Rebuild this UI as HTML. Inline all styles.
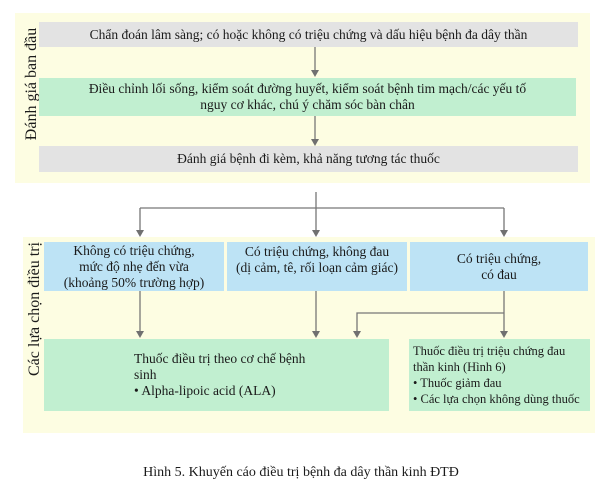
<!DOCTYPE html>
<html><head><meta charset="utf-8"><style>
body{margin:0;width:602px;height:486px;background:#fff;position:relative;overflow:hidden;font-family:"Liberation Serif",serif;color:#1a1a1a;font-size:13.5px}
.a{position:absolute}
.b{position:absolute;display:flex;align-items:center;justify-content:center;text-align:center;line-height:16px}
.g{background:#e3e3e3}.gr{background:#c1efd0}.bl{background:#bde3f5}
.v{position:absolute;transform:rotate(-90deg);white-space:nowrap;font-size:16px;line-height:20px;height:20px;text-align:center}
</style></head><body>
<div class="a" style="left:15px;top:13px;width:575px;height:170px;background:#fdfde2"></div>
<div class="a" style="left:23px;top:237px;width:572px;height:196px;background:#fdfde2"></div>
<div class="v" style="left:-38px;top:74px;width:140px">Đánh giá ban đầu</div>
<div class="v" style="left:-45px;top:299px;width:160px">Các lựa chọn điều trị</div>
<div class="b g" style="left:39px;top:22px;width:539px;height:25px">Chẩn đoán lâm sàng; có hoặc không có triệu chứng và dấu hiệu bệnh đa dây thần</div>
<div class="b gr" style="left:39px;top:78px;width:537px;height:38px">Điều chỉnh lối sống, kiểm soát đường huyết, kiểm soát bệnh tim mạch/các yếu tố<br>nguy cơ khác, chú ý chăm sóc bàn chân</div>
<div class="b g" style="left:39px;top:146px;width:539px;height:26px">Đánh giá bệnh đi kèm, khả năng tương tác thuốc</div>
<div class="b bl" style="left:44px;top:242px;width:180px;height:49px">Không có triệu chứng,<br>mức độ nhẹ đến vừa<br>(khoảng 50% trường hợp)</div>
<div class="b bl" style="left:227px;top:242px;width:180px;height:49px;align-items:flex-start;padding-top:2px;box-sizing:border-box">Có triệu chứng, không đau<br>(dị cảm, tê, rối loạn cảm giác)</div>
<div class="b bl" style="left:410px;top:242px;width:178px;height:49px">Có triệu chứng,<br>có đau</div>
<div class="b gr" style="left:44px;top:339px;width:345px;height:72px;justify-content:flex-start;text-align:left;padding-left:90px;box-sizing:border-box">Thuốc điều trị theo cơ chế bệnh<br>sinh<br>• Alpha-lipoic acid (ALA)</div>
<div class="b gr" style="left:409px;top:339px;width:181px;height:72px;justify-content:flex-start;text-align:left;padding-left:4px;box-sizing:border-box;white-space:nowrap;font-size:12.5px">Thuốc điều trị triệu chứng đau<br>thần kinh (Hình 6)<br>• Thuốc giảm đau<br>• Các lựa chọn không dùng thuốc</div>
<svg class="a" style="left:0;top:0" width="602" height="486">
<g stroke="#777" stroke-width="1.3" fill="none">
<line x1="315" y1="47" x2="315" y2="70"/><line x1="315" y1="116" x2="315" y2="139"/>
<line x1="316" y1="192" x2="316" y2="208"/><line x1="140" y1="208" x2="504" y2="208"/>
<line x1="140" y1="208" x2="140" y2="230"/><line x1="316" y1="208" x2="316" y2="230"/><line x1="504" y1="208" x2="504" y2="230"/>
<line x1="140" y1="291" x2="140" y2="331"/><line x1="316" y1="291" x2="316" y2="331"/><line x1="504" y1="291" x2="504" y2="331"/>
<polyline points="504,313 357,313 357,331"/>
</g>
<g fill="#707070">
<path d="M311,70 L319,70 L315,77z"/><path d="M311,139 L319,139 L315,146z"/>
<path d="M136,230 L144,230 L140,237z"/><path d="M312,230 L320,230 L316,237z"/><path d="M500,230 L508,230 L504,237z"/>
<path d="M136,331 L144,331 L140,338z"/><path d="M312,331 L320,331 L316,338z"/><path d="M500,331 L508,331 L504,338z"/><path d="M353,331 L361,331 L357,338z"/>
</g>
</svg>
<div class="a" style="left:0;width:602px;top:465px;text-align:center;font-size:14px">Hình 5. Khuyến cáo điều trị bệnh đa dây thần kinh ĐTĐ</div>
</body></html>
